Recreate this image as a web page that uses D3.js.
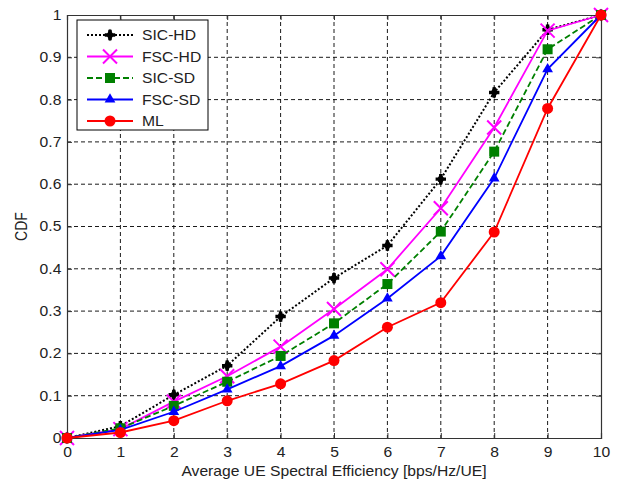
<!DOCTYPE html>
<html>
<head>
<meta charset="utf-8">
<script src="https://cdn.jsdelivr.net/npm/d3@7"></script>
<style>
body { margin: 0; background: #fff; }
text { font-family: "Liberation Sans", Arial, sans-serif; }
</style>
</head>
<body>
<script>
var w = 619;
var h = 482;

// data
var xValues = [0, 1, 2, 3, 4, 5, 6, 7, 8, 9, 10];
var sicHD = [0, 0.028, 0.102, 0.171, 0.287, 0.378, 0.455, 0.612, 0.817, 0.965, 1];
var fscHD = [0, 0.021, 0.086, 0.146, 0.216, 0.305, 0.399, 0.543, 0.734, 0.963, 1];
var sicSD = [0, 0.023, 0.076, 0.133, 0.194, 0.271, 0.364, 0.488, 0.677, 0.919, 1];
var fscSD = [0, 0.019, 0.062, 0.115, 0.170, 0.242, 0.330, 0.430, 0.614, 0.872, 1];
var ml    = [0, 0.013, 0.041, 0.088, 0.128, 0.183, 0.262, 0.320, 0.487, 0.779, 1];
var seriesNames = ["SIC-HD", "FSC-HD", "SIC-SD", "FSC-SD", "ML"];
var xTicks = [0, 1, 2, 3, 4, 5, 6, 7, 8, 9, 10];
var yTicks = [0, 0.1, 0.2, 0.3, 0.4, 0.5, 0.6, 0.7, 0.8, 0.9, 1];

var series = [
  {name: seriesNames[0], values: sicHD, color: "#000", dash: "2,2", width: 2, marker: "star"},
  {name: seriesNames[1], values: fscHD, color: "#ff00ff", dash: null, width: 1.8, marker: "x"},
  {name: seriesNames[2], values: sicSD, color: "#008000", dash: "6,3", width: 1.8, marker: "square"},
  {name: seriesNames[3], values: fscSD, color: "#0000ff", dash: null, width: 1.8, marker: "triangle"},
  {name: seriesNames[4], values: ml, color: "#ff0000", dash: null, width: 1.8, marker: "circle"}
];

// plot box (avoid "top" which is a reserved window property)
var pLeft = 67, pRight = 601, pTop = 15, pBottom = 438;
var stretch = "scale(1.12,1)"; // the original text is a bit wide

var x = d3.scaleLinear().domain([0, 10]).range([pLeft, pRight]);
var y = d3.scaleLinear().domain([0, 1]).range([pBottom, pTop]);

var svg = d3.select("body").append("svg").attr("width", w).attr("height", h);

// grid
var grid = svg.append("g").attr("stroke", "#000").attr("stroke-width", 0.9).attr("stroke-dasharray", "4,3");
grid.selectAll(".gx").data(xTicks.slice(1, -1)).enter().append("line")
  .attr("x1", function(d) { return x(d); }).attr("x2", function(d) { return x(d); })
  .attr("y1", pTop).attr("y2", pBottom);
grid.selectAll(".gy").data(yTicks.slice(1, -1)).enter().append("line")
  .attr("y1", function(d) { return y(d); }).attr("y2", function(d) { return y(d); })
  .attr("x1", pLeft).attr("x2", pRight);

// axes
var xAxis = svg.append("g").attr("transform", "translate(0," + pBottom + ")")
  .call(d3.axisBottom(x).tickValues(xTicks).tickSize(-5).tickPadding(9).tickFormat(d3.format("d")));
var xAxisTop = svg.append("g").attr("transform", "translate(0," + pTop + ")")
  .call(d3.axisTop(x).tickValues(xTicks).tickSize(-5).tickFormat(""));
var yAxis = svg.append("g").attr("transform", "translate(" + pLeft + ",0)")
  .call(d3.axisLeft(y).tickValues(yTicks).tickSize(-5).tickPadding(5).tickFormat(function(d) { return String(d); }));
var yAxisRight = svg.append("g").attr("transform", "translate(" + pRight + ",0)")
  .call(d3.axisRight(y).tickValues(yTicks).tickSize(-5).tickFormat(""));

[xAxis, xAxisTop, yAxis, yAxisRight].forEach(function(a) {
  a.selectAll("path.domain").attr("stroke", "#333").attr("stroke-width", 1.2);
  a.selectAll(".tick line").attr("stroke", "#333").attr("stroke-width", 1);
  a.selectAll("text").attr("font-size", 14).attr("fill", "#222")
    .attr("font-family", "'Liberation Sans', Arial, sans-serif")
    .attr("transform", stretch);
});

// labels
svg.append("text").attr("transform", "translate(" + ((pLeft + pRight) / 2) + ",476) " + stretch).attr("fill", "#222")
  .attr("text-anchor", "middle").attr("font-size", 14).text("Average UE Spectral Efficiency [bps/Hz/UE]");
svg.append("text").attr("transform", "translate(27," + ((pTop + pBottom) / 2) + ") rotate(-90) scale(1,1.12)")
  .attr("fill", "#222").attr("text-anchor", "middle").attr("font-size", 14).text("CDF");

function drawMarker(g, type, color) {
  if (type === "star") {
    g.append("path").attr("d", d3.symbol().type(d3.symbolCross).size(60)()).attr("fill", color);
    g.append("path").attr("d", d3.symbol().type(d3.symbolDiamond).size(45)()).attr("fill", color);
  } else if (type === "x") {
    g.append("path").attr("d", "M-7,-7L7,7M-7,7L7,-7")
      .attr("stroke", color).attr("stroke-width", 2).attr("fill", "none");
  } else if (type === "square") {
    g.append("rect").attr("x", -5).attr("y", -5).attr("width", 10).attr("height", 10).attr("fill", color);
  } else if (type === "triangle") {
    g.append("path").attr("d", d3.symbol().type(d3.symbolTriangle).size(50)()).attr("fill", color);
  } else {
    g.append("circle").attr("r", 5.5).attr("fill", color);
  }
}

var line = d3.line()
  .x(function(d, i) { return x(xValues[i]); })
  .y(function(d) { return y(d); });

series.forEach(function(s) {
  svg.append("path").datum(s.values)
    .attr("d", line)
    .attr("fill", "none")
    .attr("stroke", s.color)
    .attr("stroke-width", s.width)
    .attr("stroke-dasharray", s.dash);
  s.values.forEach(function(v, i) {
    var g = svg.append("g").attr("transform", "translate(" + x(xValues[i]) + "," + y(v) + ")");
    drawMarker(g, s.marker, s.color);
  });
});

// legend
var legend = svg.append("g");
legend.append("rect").attr("x", 77).attr("y", 20).attr("width", 131).attr("height", 110)
  .attr("fill", "#fff").attr("stroke", "#000").attr("stroke-width", 1);
series.forEach(function(s, i) {
  var yy = 35 + i * 21.5;
  legend.append("line").attr("x1", 87).attr("x2", 133).attr("y1", yy).attr("y2", yy)
    .attr("stroke", s.color).attr("stroke-width", s.width).attr("stroke-dasharray", s.dash);
  var g = legend.append("g").attr("transform", "translate(110," + yy + ")");
  drawMarker(g, s.marker, s.color);
  legend.append("text").attr("transform", "translate(142," + (yy + 5) + ") " + stretch)
    .attr("font-size", 14).attr("fill", "#222").text(s.name);
});
</script>
</body>
</html>
